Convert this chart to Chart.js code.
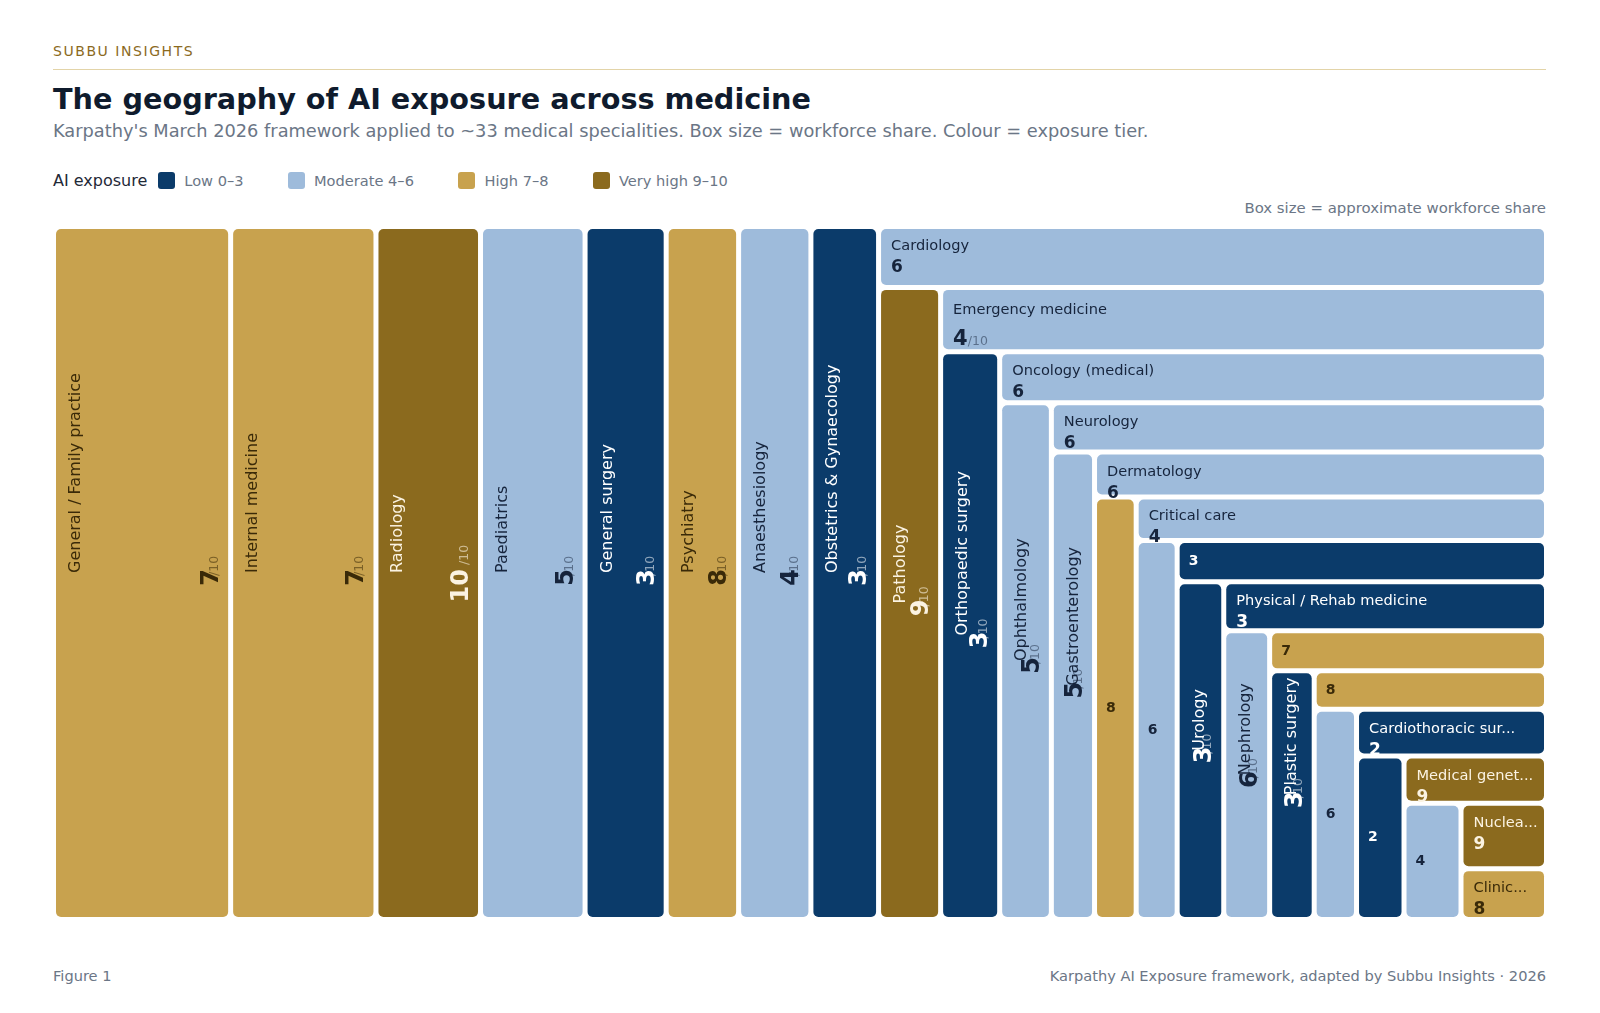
<!DOCTYPE html>
<html>
<head>
<meta charset="utf-8">
<script src="https://cdn.jsdelivr.net/npm/chart.js@4.4.0/dist/chart.umd.min.js"></script>
<style>
  html, body { margin: 0; padding: 0; background: #ffffff; }
  body { width: 1600px; height: 1013px; position: relative; overflow: hidden; font-family: "DejaVu Sans", sans-serif; }
  .abs { position: absolute; white-space: nowrap; }
  #kicker { left: 53px; top: 44px; font-size: 14px; line-height: 14px; letter-spacing: 1.55px; color: #8b6a1e; }
  #rule { left: 53px; top: 69px; width: 1493px; height: 1px; background: #e3d4a8; }
  #title { left: 53px; top: 85px; font-size: 28.7px; line-height: 29px; font-weight: bold; color: #0f1b2d; }
  #subtitle { left: 53px; top: 122px; font-size: 17.8px; line-height: 18px; color: #6b7686; }
  #legend { left: 53px; top: 172px; height: 17px; display: flex; align-items: center; }
  #legend .lab { font-size: 16px; color: #1f2937; margin-right: 11px; }
  #legend .item { display: flex; align-items: center; margin-right: 44.5px; font-size: 14.6px; color: #6b7686; }
  #legend .sw { width: 17px; height: 17px; border-radius: 3px; margin-right: 9px; }
  #note { right: 54px; top: 201px; font-size: 14.9px; line-height: 15px; color: #6b7686; }
  #figno { left: 53px; top: 969px; font-size: 14.6px; line-height: 14.6px; color: #6b7686; }
  #source { right: 54px; top: 969px; font-size: 14.6px; line-height: 14.6px; color: #6b7686; }
  #tm { position: absolute; left: 50px; top: 222px; }
</style>
</head>
<body>
<div id="kicker" class="abs">SUBBU INSIGHTS</div>
<div id="rule" class="abs"></div>
<div id="title" class="abs">The geography of AI exposure across medicine</div>
<div id="subtitle" class="abs">Karpathy's March 2026 framework applied to ~33 medical specialities. Box size = workforce share. Colour = exposure tier.</div>
<div id="legend" class="abs"></div>
<div id="note" class="abs">Box size = approximate workforce share</div>
<canvas id="tm" width="1500" height="702"></canvas>
<div id="figno" class="abs">Figure 1</div>
<div id="source" class="abs">Karpathy AI Exposure framework, adapted by Subbu Insights · 2026</div>

<script>
// ---------------- DATA ----------------
const specialties = [
  "General / Family practice", "Internal medicine", "Radiology", "Paediatrics",
  "General surgery", "Psychiatry", "Anaesthesiology", "Obstetrics & Gynaecology",
  "Cardiology", "Pathology", "Emergency medicine", "Orthopaedic surgery",
  "Oncology (medical)", "Ophthalmology", "Neurology", "Gastroenterology",
  "Dermatology", "Haematology", "Critical care", "Respiratory medicine",
  "Otolaryngology (ENT)", "Urology", "Physical / Rehab medicine", "Nephrology",
  "Endocrinology", "Plastic surgery", "Public health medicine", "Infectious diseases",
  "Cardiothoracic surgery", "Neurosurgery", "Medical genetics", "Vascular surgery",
  "Nuclear medicine", "Clinical pharmacology"
];
// approximate workforce share (%)
const workforceShare = [
  11.86, 9.73, 7.0, 7.0,
  5.43, 4.85, 4.84, 4.53,
  3.93, 3.79, 3.76, 3.24,
  2.70, 2.58, 2.36, 1.95,
  1.96, 1.70, 1.73, 1.50,
  1.47, 1.52, 1.53, 1.28,
  1.07, 1.07, 0.86, 0.86,
  0.86, 0.75, 0.65, 0.64,
  0.54, 0.42
];
// AI exposure score out of 10
const exposureScore = [
  7, 7, 10, 5,
  3, 8, 4, 3,
  6, 9, 4, 3,
  6, 5, 6, 5,
  6, 8, 4, 6,
  3, 3, 3, 6,
  7, 3, 8, 6,
  2, 2, 9, 4,
  9, 8
];
const tierLabels = ["Low 0\u20133", "Moderate 4\u20136", "High 7\u20138", "Very high 9\u201310"];
const tierMax = [3, 6, 8, 10];
const tierColors = ["#0b3b6a", "#9ebbdb", "#c8a24e", "#8b6a1e"];
const tierText = ["#ffffff", "#16243c", "#3a2a08", "#fbf3e2"];
const tierDenom = ["rgba(255,255,255,0.55)", "rgba(22,36,60,0.5)", "rgba(58,42,8,0.55)", "rgba(251,243,226,0.6)"];
const FIRST_ROW_COUNT = 8;

// ---------------- LEGEND ----------------
const legendEl = document.getElementById('legend');
const labEl = document.createElement('span');
labEl.className = 'lab'; labEl.textContent = 'AI exposure';
legendEl.appendChild(labEl);
tierLabels.forEach((t, i) => {
  const it = document.createElement('span'); it.className = 'item';
  const sw = document.createElement('span'); sw.className = 'sw'; sw.style.background = tierColors[i];
  const tx = document.createElement('span'); tx.textContent = t;
  it.appendChild(sw); it.appendChild(tx); legendEl.appendChild(it);
});

// ---------------- LAYOUT ----------------
const canvas = document.getElementById('tm');
const PAD = { left: 3.5, right: 3.5, top: 4.5, bottom: 4.5 };
const GAP = 5;
const aspect = (canvas.width - PAD.left - PAD.right) / (canvas.height - PAD.top - PAD.bottom);

function tierOf(s) { for (let i = 0; i < tierMax.length; i++) if (s <= tierMax[i]) return i; return tierMax.length - 1; }

function layoutCells(values, firstCount, asp) {
  const W = asp, H = 1;
  const total = values.reduce((a, b) => a + b, 0);
  const areaOf = v => v / total * W * H;
  const rects = [];
  let cx = 0;
  for (let i = 0; i < firstCount; i++) {
    const cw = areaOf(values[i]) / H;
    rects.push({ x0: cx, y0: 0, x1: cx + cw, y1: H });
    cx += cw;
  }
  let x0 = cx, y0 = 0, x1 = W, y1 = H;
  for (let i = firstCount; i < values.length; i++) {
    if (i === values.length - 1) { rects.push({ x0, y0, x1, y1 }); break; }
    if ((x1 - x0) > (y1 - y0)) {
      const cw = areaOf(values[i]) / (y1 - y0);
      rects.push({ x0, y0, x1: x0 + cw, y1 }); x0 += cw;
    } else {
      const ch = areaOf(values[i]) / (x1 - x0);
      rects.push({ x0, y0, x1, y1: y0 + ch }); y0 += ch;
    }
  }
  return rects.map(r => ({ x0: r.x0 / W, x1: r.x1 / W, y0: r.y0 / H, y1: r.y1 / H }));
}
const cells = layoutCells(workforceShare, FIRST_ROW_COUNT, aspect);

const FONT = '"DejaVu Sans", sans-serif';

const treemapPlugin = {
  id: 'treemapCells',
  afterDatasetsDraw(chart) {
    const { ctx } = chart;
    const xs = chart.scales.x, ys = chart.scales.y;
    cells.forEach((c, i) => {
      const L = xs.getPixelForValue(c.x0) + GAP / 2, R = xs.getPixelForValue(c.x1) - GAP / 2;
      const T = ys.getPixelForValue(c.y0) + GAP / 2, B = ys.getPixelForValue(c.y1) - GAP / 2;
      const w = R - L, h = B - T;
      const score = exposureScore[i], tier = tierOf(score);
      const name = specialties[i];
      ctx.save();
      ctx.fillStyle = tierColors[tier];
      ctx.beginPath(); ctx.roundRect(L, T, w, h, 5); ctx.fill();
      const txt = tierText[tier], den = tierDenom[tier];
      const vertical = h > w;
      const scoreOnly = () => {
        ctx.font = 'bold 14px ' + FONT; ctx.fillStyle = txt;
        ctx.textAlign = 'left'; ctx.textBaseline = 'middle';
        ctx.fillText(String(score), L + 9, (T + B) / 2);
      };
      if (vertical) {
        if (w >= 37 && h >= 225) {
          const cy = (T + B) / 2;
          ctx.save();
          ctx.translate(L + 24, cy); ctx.rotate(-Math.PI / 2);
          ctx.font = '16px ' + FONT; ctx.fillStyle = txt;
          ctx.textAlign = 'left'; ctx.textBaseline = 'alphabetic';
          ctx.fillText(name, 0, 0);
          ctx.restore();
          ctx.save();
          ctx.translate(R - 10, cy); ctx.rotate(-Math.PI / 2);
          ctx.textAlign = 'left'; ctx.textBaseline = 'alphabetic';
          ctx.font = 'bold 24px ' + FONT;
          const s = String(score);
          const ws = ctx.measureText(s).width;
          const start = -(ws - 4);
          ctx.font = '12.5px ' + FONT; ctx.fillStyle = den;
          ctx.fillText('/10', start + ws - (s.length > 1 ? -4 : 7), 0);
          ctx.font = 'bold 24px ' + FONT;
          ctx.fillStyle = txt; ctx.fillText(s, start, 0);
          ctx.restore();
        } else scoreOnly();
      } else {
        if (h >= 37) {
          const big = h >= 57 && w >= 150;
          const maxChars = Math.floor((w - 20) / 9);
          const label = name.length > maxChars ? name.slice(0, maxChars) + '...' : name;
          ctx.textAlign = 'left'; ctx.textBaseline = 'alphabetic';
          ctx.font = '14.6px ' + FONT; ctx.fillStyle = txt;
          ctx.fillText(label, L + 10, T + (big ? 24 : 21));
          ctx.font = 'bold ' + (big ? 21 : 17) + 'px ' + FONT;
          const s = String(score);
          ctx.fillText(s, L + 10, T + (big ? 55 : 43));
          if (big) {
            const ws = ctx.measureText(s).width;
            ctx.font = '12.5px ' + FONT; ctx.fillStyle = den;
            ctx.fillText('/10', L + 10 + ws, T + 55);
          }
        } else scoreOnly();
      }
      ctx.restore();
    });
  }
};

new Chart(canvas, {
  type: 'scatter',
  data: {
    datasets: [{
      label: 'Specialities',
      data: cells.map(c => ({ x: (c.x0 + c.x1) / 2, y: (c.y0 + c.y1) / 2 })),
      pointRadius: 0, pointHoverRadius: 0
    }]
  },
  options: {
    responsive: false,
    animation: false,
    events: [],
    layout: { padding: PAD },
    scales: {
      x: { type: 'linear', min: 0, max: 1, display: false },
      y: { type: 'linear', min: 0, max: 1, reverse: true, display: false }
    },
    plugins: { legend: { display: false }, tooltip: { enabled: false } }
  },
  plugins: [treemapPlugin]
});
</script>
</body>
</html>
